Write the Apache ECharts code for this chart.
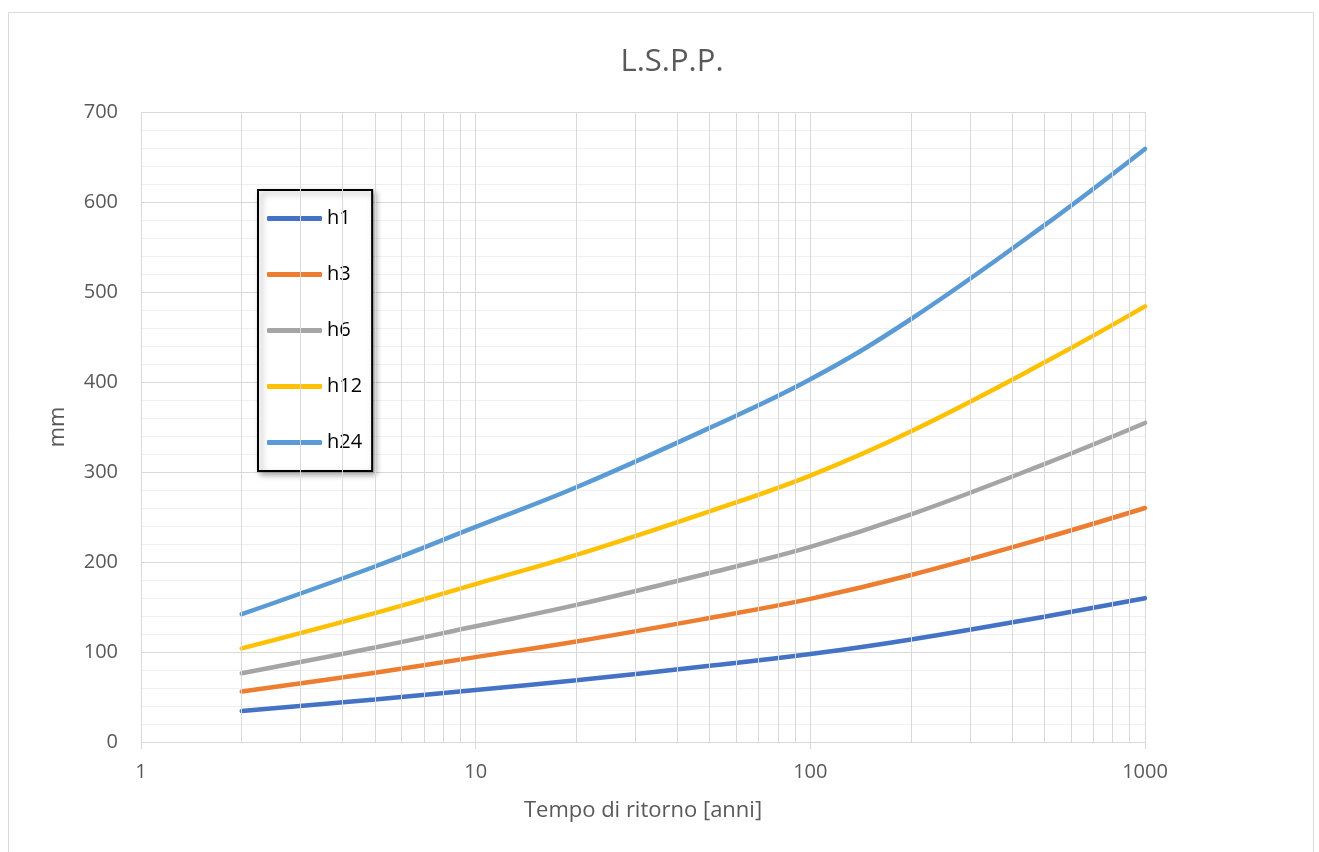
<!DOCTYPE html>
<html>
<head>
<meta charset="utf-8">
<title>L.S.P.P.</title>
<script src="https://cdn.jsdelivr.net/npm/echarts@6/dist/echarts.min.js"></script>
<style>
  html, body { margin: 0; padding: 0; background: #fff; }
  #chart { width: 1319px; height: 852px; }
</style>
</head>
<body>
<div id="chart"></div>
<script>
// tempo di ritorno (anni)
const returnPeriods = [2, 5, 10, 20, 50, 100, 200, 500, 1000]
// altezze di pioggia (mm) per durata
const h1 = [34.4, 47.3, 57.9, 68.6, 84.6, 97.7, 113.9, 139.2, 159.8]
const h3 = [56, 77, 94.3, 111.7, 137.8, 159, 185.5, 226.5, 260]
const h6 = [76.4, 105, 128.6, 152.3, 187.8, 216.8, 252.9, 308.8, 354.5]
const h12 = [104, 143.2, 175.5, 207.9, 256.3, 296, 345.2, 421.6, 484]
const h24 = [142, 195, 239, 283, 349, 403, 470, 574, 659]
const seriesNames = ['h1', 'h3', 'h6', 'h12', 'h24']
const colors = ['#4472C4', '#ED7D31', '#A5A5A5', '#FFC000', '#5B9BD5']
// linee secondarie della scala logaritmica
const minorXTicks = [2, 3, 4, 5, 6, 7, 8, 9, 20, 30, 40, 50, 60, 70, 80, 90, 200, 300, 400, 500, 600, 700, 800, 900]

const font = '"Open Sans", "Noto Sans", sans-serif'
const allValues = [h1, h3, h6, h12, h24]

const chart = echarts.init(document.getElementById('chart'))

const lineSeries = seriesNames.map((name, i) => ({
  name: name,
  type: 'line',
  smooth: 0.4,
  smoothConstraint: false,
  symbol: 'none',
  z: 3,
  lineStyle: { width: 4.5, color: colors[i], cap: 'round' },
  itemStyle: { color: colors[i] },
  data: returnPeriods.map((t, j) => [t, allValues[i][j]])
}))

chart.setOption({
  animation: false,
  color: colors,
  textStyle: { fontFamily: font },
  graphic: [
    {
      type: 'rect',
      shape: { x: 8.5, y: 12.5, width: 1305, height: 860 },
      style: { fill: 'none', stroke: '#d9d9d9', lineWidth: 1 },
      silent: true
    }
  ],
  title: {
    text: 'L.S.P.P.',
    left: 667,
    top: 42,
    textAlign: 'center',
    textStyle: { fontFamily: font, fontSize: 31, fontWeight: 'normal', color: '#595959' }
  },
  legend: {
    data: seriesNames,
    orient: 'vertical',
    left: 258,
    top: 190,
    padding: [18, 10, 18, 9],
    itemGap: 35,
    itemWidth: 55,
    itemHeight: 5,
    icon: 'roundRect',
    backgroundColor: '#fff',
    borderColor: '#000',
    borderWidth: 2,
    shadowColor: 'rgba(0,0,0,0.35)',
    shadowBlur: 6,
    shadowOffsetX: 3,
    shadowOffsetY: 3,
    textStyle: { fontFamily: font, fontSize: 20, color: '#000', lineHeight: 21 }
  },
  grid: {
    left: 141,
    right: 174,
    top: 112,
    bottom: 110,
    containLabel: false
  },
  xAxis: {
    type: 'log',
    logBase: 10,
    min: 1,
    max: 1000,
    name: 'Tempo di ritorno [anni]',
    nameLocation: 'middle',
    nameGap: 58,
    nameTextStyle: { fontFamily: font, fontSize: 22, color: '#595959' },
    axisLine: { show: true, lineStyle: { color: '#d9d9d9', width: 1 } },
    axisTick: { show: true, length: 7, lineStyle: { color: '#d9d9d9' } },
    axisLabel: {
      margin: 20,
      fontFamily: font,
      fontSize: 20,
      color: '#595959',
      formatter: v => String(v)
    },
    splitLine: { show: true, lineStyle: { color: '#d9d9d9', width: 1 } },
    minorTick: { show: false },
    minorSplitLine: { show: false }
  },
  yAxis: {
    type: 'value',
    min: 0,
    max: 700,
    interval: 100,
    name: 'mm',
    nameLocation: 'middle',
    nameGap: 72,
    nameTextStyle: { fontFamily: font, fontSize: 22, color: '#595959' },
    axisLine: { show: false },
    axisTick: { show: false },
    axisLabel: { margin: 23, fontFamily: font, fontSize: 20, color: '#595959' },
    splitLine: { show: true, lineStyle: { color: '#d9d9d9', width: 1 } },
    minorTick: { show: false, splitNumber: 5 },
    minorSplitLine: { show: true, lineStyle: { color: '#f0f0f0', width: 1 } }
  },
  series: [
    {
      name: 'grid-minor',
      type: 'line',
      data: [],
      silent: true,
      z: 1,
      markLine: {
        silent: true,
        symbol: 'none',
        label: { show: false },
        lineStyle: { type: 'solid', color: '#d9d9d9', width: 1 },
        emphasis: { disabled: true },
        data: minorXTicks.map(v => ({ xAxis: v }))
      }
    }
  ].concat(lineSeries)
})
</script>
</body>
</html>
